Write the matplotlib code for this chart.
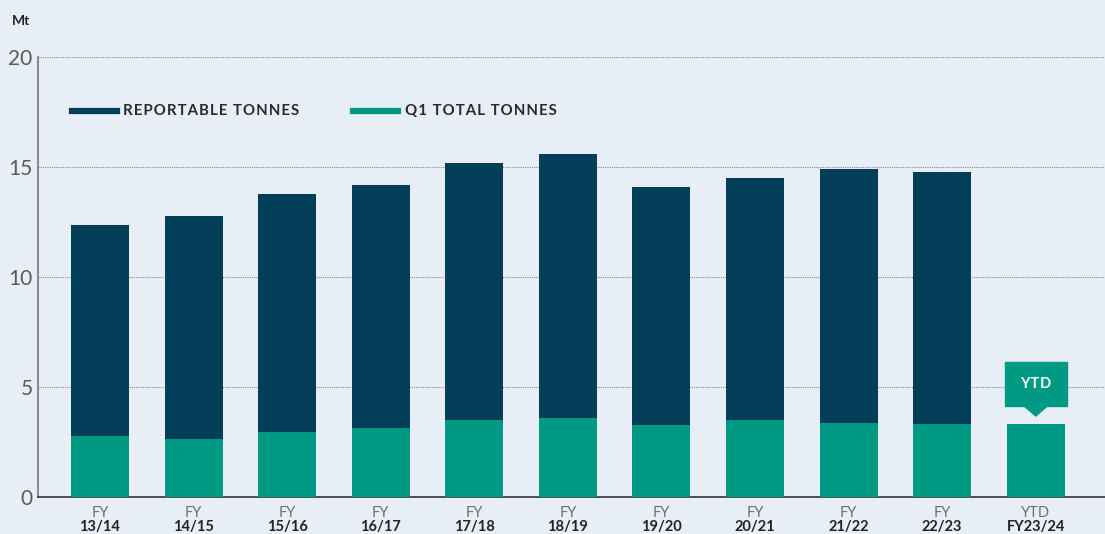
import matplotlib
matplotlib.use("Agg")
import matplotlib.pyplot as plt
from matplotlib.patches import Polygon
import matplotlib.transforms as mtransforms

top_labels = ["FY"] * 10 + ["YTD"]
bottom_labels = ["13/14", "14/15", "15/16", "16/17", "17/18", "18/19",
                 "19/20", "20/21", "21/22", "22/23", "FY23/24"]
reportable = [12.36, 12.77, 13.77, 14.18, 15.18, 15.59, 14.09, 14.5, 14.91, 14.77, None]
q1_total = [2.77, 2.64, 2.95, 3.14, 3.5, 3.59, 3.27, 3.5, 3.36, 3.32, 3.32]
yticks = [0, 5, 10, 15, 20]

BG = "#e8eef5"
NAVY = "#023e58"
TEAL = "#009984"
plt.rcParams['font.family'] = ['Lato', 'DejaVu Sans']


def spaced(s):
    return "\u200a".join(s)


fig = plt.figure(figsize=(11.05, 5.34), dpi=100, facecolor=BG)
ax = fig.add_axes([38/1105, 37/534, 1 - 38/1105, 440/534], facecolor=BG)

x = list(range(len(bottom_labels)))
w = 0.62
rx = [i for i, v in zip(x, reportable) if v is not None]
rv = [v for v in reportable if v is not None]
ax.bar(rx, rv, width=w, color=NAVY, zorder=3)
ax.bar(x, q1_total, width=w, color=TEAL, zorder=4)

ax.set_xlim(-0.662, 10.74)
ax.set_ylim(0, 20)
ax.set_yticks(yticks)
ax.set_yticklabels([str(t) for t in yticks], fontsize=15, color="#5a5a5a", fontweight="normal")
ax.tick_params(axis='y', length=0, pad=4)
ax.set_xticks([])
for t in yticks[1:]:
    ax.axhline(t, color="#888888", lw=0.8, ls=(0, (1, 1)), zorder=1)
for s in ["top", "right"]:
    ax.spines[s].set_visible(False)
ax.spines["left"].set_color("#777777")
ax.spines["left"].set_linewidth(1.2)
ax.spines["bottom"].set_color("#333333")
ax.spines["bottom"].set_linewidth(1.2)

trans = mtransforms.blended_transform_factory(ax.transData, fig.transFigure)
for i, (a, b) in enumerate(zip(top_labels, bottom_labels)):
    ax.text(i, 1 - 513/534, a, transform=trans, ha="center", va="center",
            fontsize=10.5, color="#6e6e6e", fontweight="normal")
    ax.text(i, 1 - 527/534, b, transform=trans, ha="center", va="center",
            fontsize=10.5, color="#222222", fontweight="bold")

fig.text(12/1105, 1 - 21/534, "Mt", fontsize=10, fontweight="bold", color="#222222",
         ha="left", va="center")


def leg(x0, x1, xt, color, label):
    fig.add_artist(plt.Line2D([x0/1105, x1/1105], [1 - 111/534] * 2, color=color, lw=4.5))
    fig.text(xt/1105, 1 - 111/534, spaced(label), fontsize=10.8, fontweight="bold",
             color="#2a2a2a", ha="left", va="center")


leg(72, 117, 123, NAVY, "REPORTABLE TONNES")
leg(353, 398, 405, TEAL, "Q1 TOTAL TONNES")

# YTD callout
cx = len(bottom_labels) - 1
box_w = 0.66
ax.add_patch(plt.Rectangle((cx - box_w/2, 4.15), box_w, 2.0, color=TEAL, zorder=5, clip_on=False))
ax.add_patch(Polygon([[cx - 0.13, 4.16], [cx + 0.13, 4.16], [cx, 3.68]], closed=True,
                     color=TEAL, zorder=5))
ax.text(cx, 5.15, spaced("YTD"), ha="center", va="center", color="white", fontsize=10.5,
        fontweight="bold", zorder=6)

fig.savefig("out.png", dpi=100, facecolor=BG)
